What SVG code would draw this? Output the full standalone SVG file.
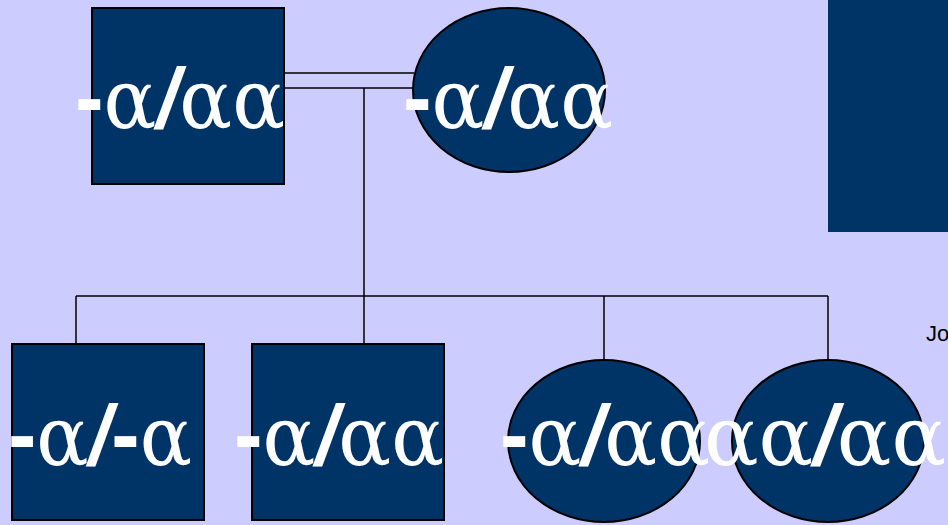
<svg xmlns="http://www.w3.org/2000/svg" width="948" height="525" viewBox="0 0 948 525">
<style>
.node{fill:#003366;stroke:#000;stroke-width:2}
.line{stroke:#000;stroke-width:1.5;fill:none}
.lbl{font-family:"DejaVu Serif",serif;font-size:82px;fill:#fff}
.d{font-family:"Liberation Sans",sans-serif;font-weight:bold;font-size:90px}
.s{font-family:"Liberation Sans",sans-serif;font-weight:bold;font-style:italic;font-size:86px}
.jo{font-family:"Liberation Sans",sans-serif;font-size:22px;fill:#000}
</style>
<rect width="948" height="525" fill="#ccccff"/>
<rect x="828" y="0" width="120" height="232" fill="#003366"/>
<text class="jo" x="926" y="341">Jo</text>
<g id="connectors">
<line class="line" x1="284" y1="73" x2="414" y2="73"/>
<line class="line" x1="284" y1="88" x2="414" y2="88"/>
<line class="line" x1="364" y1="88" x2="364" y2="296"/>
<line class="line" x1="76" y1="296" x2="828" y2="296"/>
<line class="line" x1="76" y1="296" x2="76" y2="344"/>
<line class="line" x1="364" y1="296" x2="364" y2="344"/>
<line class="line" x1="604" y1="296" x2="604" y2="360"/>
<line class="line" x1="828" y1="296" x2="828" y2="360"/>
</g>
<g id="father">
<rect class="node" x="92" y="8" width="192" height="176"/>
<text class="lbl" x="75" y="128" textLength="210" lengthAdjust="spacingAndGlyphs"><tspan class="d">-</tspan>α<tspan class="s">/</tspan>αα</text>
</g>
<g id="mother">
<ellipse class="node" cx="509" cy="90" rx="96" ry="82"/>
<text class="lbl" x="403" y="128" textLength="210" lengthAdjust="spacingAndGlyphs"><tspan class="d">-</tspan>α<tspan class="s">/</tspan>αα</text>
</g>
<g id="child1">
<rect class="node" x="12" y="344" width="192" height="176"/>
<text class="lbl" x="8" y="465" textLength="184" lengthAdjust="spacingAndGlyphs"><tspan class="d">-</tspan>α<tspan class="s">/</tspan><tspan class="d">-</tspan>α</text>
</g>
<g id="child2">
<rect class="node" x="252" y="344" width="192" height="176"/>
<text class="lbl" x="234" y="465" textLength="210" lengthAdjust="spacingAndGlyphs"><tspan class="d">-</tspan>α<tspan class="s">/</tspan>αα</text>
</g>
<g id="child3">
<ellipse class="node" cx="604" cy="441" rx="96" ry="81"/>
<text class="lbl" x="500" y="465" textLength="210" lengthAdjust="spacingAndGlyphs"><tspan class="d">-</tspan>α<tspan class="s">/</tspan>αα</text>
</g>
<g id="child4">
<ellipse class="node" cx="828" cy="441" rx="96" ry="81"/>
<text class="lbl" x="704" y="465" textLength="242" lengthAdjust="spacingAndGlyphs">αα<tspan class="s">/</tspan>αα</text>
</g>
</svg>
